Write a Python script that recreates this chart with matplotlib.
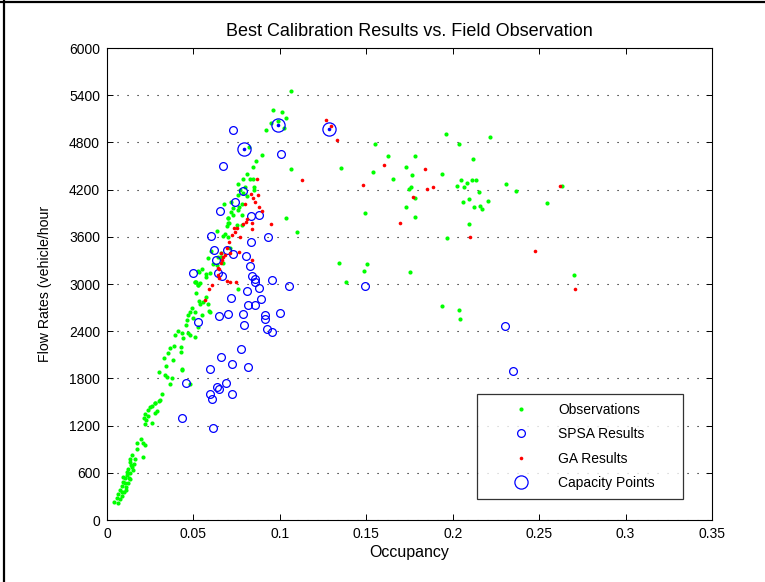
import matplotlib
matplotlib.use("Agg")
import matplotlib.pyplot as plt
from matplotlib.lines import Line2D

plt.rcParams['font.family'] = ['Liberation Sans', 'DejaVu Sans']

# ---------------- data ----------------
obs_x = [0.1064, 0.0962, 0.1012, 0.1034, 0.0949, 0.0989, 0.0918, 0.1026, 0.0823, 0.0898,
         0.1063, 0.0860, 0.0843, 0.0808, 0.0789, 0.0827, 0.0846, 0.0756, 0.0798, 0.0850,
         0.0769, 0.0853, 0.0789, 0.0760, 0.0808, 0.0679, 0.0779, 0.0716, 0.0731, 0.0764,
         0.0760, 0.0717, 0.0702, 0.0783, 0.0731, 0.0702, 0.0698, 0.0696, 0.0750, 0.0779,
         0.0706, 0.0635, 0.0683, 0.0673, 0.0702, 0.1036, 0.1097, 0.0713, 0.0602, 0.0658,
         0.0586, 0.0640, 0.0660, 0.0669, 0.0635, 0.0611, 0.0548, 0.0532, 0.0528, 0.0573,
         0.0596, 0.0573, 0.0513, 0.0538, 0.0509, 0.0528, 0.0756,
         # middle section
         0.0509, 0.0528, 0.0513, 0.0573, 0.0557, 0.0532, 0.0490, 0.0480, 0.0509, 0.0470,
         0.0551, 0.0461, 0.0499, 0.0457, 0.0525, 0.0412, 0.0432, 0.0470, 0.0393, 0.0480,
         0.0441, 0.0509, 0.0389, 0.0366, 0.0428, 0.0426, 0.0351, 0.0331, 0.0384, 0.0340,
         0.0301, 0.0436, 0.0336, 0.0345, 0.0374, 0.0364, 0.0318, 0.0278, 0.0305, 0.0480,
         0.0432, 0.0592, 0.0582, 0.0596, 0.0538,
         # lower section
         0.0301, 0.0278, 0.0259, 0.0249, 0.0288, 0.0278, 0.0239, 0.0220, 0.0235, 0.0216,
         0.0226, 0.0259, 0.0220, 0.0197, 0.0172, 0.0207, 0.0220, 0.0172, 0.0143, 0.0207,
         0.0162, 0.0133, 0.0158, 0.0143, 0.0123, 0.0152, 0.0133, 0.0114, 0.0104, 0.0133,
         0.0094, 0.0120, 0.0085, 0.0108, 0.0075, 0.0100, 0.0065, 0.0089, 0.0056, 0.0075,
         0.0042, 0.0062, 0.0095, 0.0115, 0.0105, 0.0125, 0.0085, 0.0140, 0.0110, 0.0135,
         # congested region
         0.1959, 0.2036, 0.2216, 0.1549, 0.1628, 0.1782, 0.2117, 0.1352, 0.1541, 0.1730,
         0.1766, 0.1653, 0.1940, 0.2046, 0.2113, 0.2133, 0.2081, 0.2027, 0.2067, 0.2306,
         0.1757, 0.1747, 0.2150, 0.2368, 0.1780, 0.2096, 0.2058, 0.2202, 0.2158, 0.2171,
         0.2121, 0.2544, 0.1732, 0.1782, 0.1494, 0.2092, 0.1969, 0.1340, 0.1506, 0.1485,
         0.1753, 0.1384, 0.1936, 0.2036, 0.2044, 0.2632, 0.2702]
obs_y = [5456, 5207, 5189, 5113, 5050, 5075, 4953, 4978, 4745, 4635,
         4465, 4563, 4487, 4394, 4330, 4334, 4334, 4275, 4237, 4229,
         4194, 4194, 4152, 4131, 4122, 4013, 4013, 4046, 3962, 3982,
         3940, 3911, 3842, 3877, 3877, 3835, 3779, 3741, 3749, 3749,
         3771, 3677, 3635, 3614, 3601, 3835, 3664, 3461, 3419, 3398,
         3334, 3339, 3347, 3263, 3241, 3250, 3186, 3156, 3165, 3127,
         3136, 3093, 3029, 3008, 3029, 2987, 2936,
         3029, 2987, 2881, 2838, 2775, 2787, 2691, 2648, 2640, 2606,
         2609, 2542, 2564, 2478, 2457, 2406, 2373, 2381, 2351, 2351,
         2309, 2322, 2215, 2190, 2203, 2139, 2126, 2055, 2034, 1957,
         1885, 1907, 1843, 1814, 1809, 1725, 1598, 1491, 1525, 1725,
         1915, 2656, 2741, 2648, 2745,
         1512, 1483, 1453, 1432, 1385, 1356, 1398, 1343, 1322, 1300,
         1271, 1237, 1220, 1026, 975, 975, 953, 899, 826, 797,
         771, 741, 712, 677, 644, 636, 594, 572, 530, 517,
         487, 466, 432, 416, 381, 360, 327, 305, 276, 263,
         233, 220, 550, 610, 470, 540, 360, 700, 380, 780,
         4910, 4779, 4872, 4779, 4623, 4623, 4584, 4478, 4419, 4487,
         4381, 4334, 4394, 4325, 4325, 4325, 4287, 4249, 4237, 4275,
         4237, 4211, 4169, 4178, 4093, 4076, 4038, 4051, 3991, 3953,
         3974, 4025, 3974, 3855, 3902, 3762, 3580, 3270, 3258, 3161,
         3152, 3029, 2720, 2669, 2555, 4245, 3114]

spsa_x = [0.0729, 0.1007, 0.0669, 0.0789, 0.0739, 0.0652, 0.0835, 0.0877, 0.0604, 0.0930,
          0.0835, 0.0617, 0.0692, 0.0731, 0.0804, 0.0629, 0.0825, 0.0498, 0.0644, 0.0665,
          0.0837, 0.0856, 0.0858, 0.0881, 0.0955, 0.1053, 0.0812, 0.0717, 0.0893, 0.0816,
          0.0854, 0.0702, 0.0646, 0.0789, 0.0916, 0.0916, 0.1003, 0.0790, 0.0926, 0.0953,
          0.0526, 0.0777, 0.0660, 0.0723, 0.0596, 0.0818, 0.0455, 0.0690, 0.0638, 0.0646,
          0.0598, 0.0721, 0.0607, 0.0436, 0.0613, 0.1493, 0.2304, 0.2349]
spsa_y = [4961, 4652, 4503, 4182, 4038, 3927, 3860, 3873, 3614, 3593,
          3530, 3436, 3431, 3377, 3352, 3305, 3229, 3136, 3144, 3105,
          3101, 3063, 3021, 2953, 3046, 2974, 2914, 2826, 2805, 2737,
          2737, 2618, 2593, 2618, 2606, 2551, 2631, 2482, 2432, 2390,
          2517, 2177, 2072, 1983, 1915, 1945, 1737, 1745, 1690, 1665,
          1605, 1605, 1542, 1300, 1169, 2970, 2470, 1898]

ga_x = [0.0868, 0.0833, 0.0875, 0.0843, 0.0854, 0.0800, 0.0881, 0.0895, 0.0808, 0.0804,
        0.0837, 0.0789, 0.0750, 0.0733, 0.0742, 0.0841, 0.0723, 0.0769, 0.0947, 0.0704,
        0.0692, 0.0765, 0.0660, 0.0669, 0.0683, 0.0712, 0.0658, 0.0644, 0.0667, 0.0841,
        0.0648, 0.0644, 0.0650, 0.0692, 0.0712, 0.0746, 0.0607, 0.0590, 0.0565,
        0.1265, 0.1294, 0.1332, 0.1128, 0.1481, 0.1604, 0.1840, 0.1851, 0.1888, 0.1770,
        0.1697, 0.2102, 0.2478, 0.2621, 0.2707]
ga_y = [4334, 4140, 4127, 4089, 4046, 4013, 3982, 3930, 3822, 3788,
        3779, 3762, 3708, 3715, 3664, 3699, 3622, 3597, 3762, 3537,
        3453, 3410, 3390, 3347, 3368, 3390, 3263, 3199, 3305, 3305,
        3190, 3114, 3072, 3042, 3021, 3029, 2987, 2936, 2796,
        5088, 5004, 4826, 4325, 4254, 4512, 4465, 4207, 4237, 4105,
        3771, 3593, 3415, 4241, 2936]

cap_x = [0.0793, 0.0990, 0.1286]
cap_y = [4715, 5020, 4970]

x_ticks = [0, 0.05, 0.1, 0.15, 0.2, 0.25, 0.3, 0.35]
x_tick_labels = ['0', '0.05', '0.1', '0.15', '0.2', '0.25', '0.3', '0.35']
y_ticks = [0, 600, 1200, 1800, 2400, 3000, 3600, 4200, 4800, 5400, 6000]

# ---------------- figure ----------------
fig = plt.figure(figsize=(7.65, 5.82), dpi=100)
fig.patch.set_facecolor('white')
ax = fig.add_axes([107 / 765, 62 / 582, 605 / 765, 472 / 582])

ax.plot(obs_x, obs_y, linestyle='none', marker='o', ms=3.0, mfc=(0, 1, 0), mec='none',
        label='Observations', zorder=2)
ax.plot(spsa_x, spsa_y, linestyle='none', marker='o', ms=5.6, mfc='none', mec='blue',
        mew=0.9, label='SPSA Results', zorder=3)
ax.plot(ga_x, ga_y, linestyle='none', marker='o', ms=2.6, mfc='red', mec='none',
        label='GA Results', zorder=4)
ax.plot(cap_x, cap_y, linestyle='none', marker='o', ms=9.5, mfc='none', mec='blue',
        mew=0.9, label='Capacity Points', zorder=5)
ax.plot(cap_x, cap_y, linestyle='none', marker='o', ms=2.6, mfc='blue', mec='none', zorder=5)

ax.set_xlim(0, 0.35)
ax.set_ylim(0, 6000)
ax.set_xticks(x_ticks)
ax.set_xticklabels(x_tick_labels)
ax.set_yticks(y_ticks)
ax.yaxis.grid(True, linestyle=(0, (1, 8)), color='black', linewidth=0.8)
ax.xaxis.grid(False)
ax.set_axisbelow(True)
ax.tick_params(direction='in', top=True, right=True, length=4, width=0.7,
               labelsize=10, pad=5)
for s in ax.spines.values():
    s.set_linewidth(0.8)

ax.set_title('Best Calibration Results vs. Field Observation', fontsize=13, pad=9)
ax.set_xlabel('Occupancy', fontsize=11.5, labelpad=3)
ax.set_ylabel('Flow Rates (vehicle/hour', fontsize=10.2, labelpad=12)

leg = ax.legend(loc='lower left', bbox_to_anchor=(0.6116, 0.0445, 0.3404, 0.2266),
                mode='expand', borderaxespad=0, fontsize=10, frameon=True,
                fancybox=False, edgecolor='black', borderpad=0.65,
                handlelength=5.0, handletextpad=0.2, labelspacing=0.75, numpoints=1)
leg.get_frame().set_linewidth(0.9)

# outer border lines (top and left)
fig.add_artist(Line2D([0, 1], [1 - 2 / 582, 1 - 2 / 582], color='black', lw=1.6,
                      transform=fig.transFigure))
fig.add_artist(Line2D([4 / 765, 4 / 765], [0, 1], color='black', lw=1.6,
                      transform=fig.transFigure))

fig.savefig('out.png', dpi=100, facecolor='white')
